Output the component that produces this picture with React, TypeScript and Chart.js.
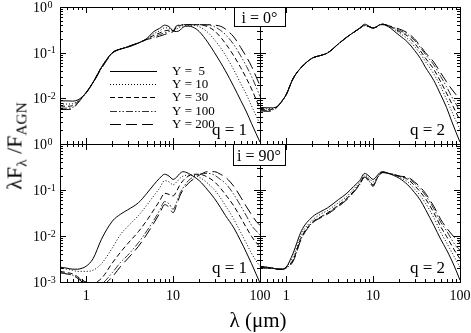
import React, { useEffect, useRef } from "react";
import { Chart, registerables } from "chart.js";
Chart.register(...registerables);

const SERIF = '"Liberation Serif", "Times New Roman", Times, serif';

// ---------- data ----------
const wavelengths = [0.5, 0.6, 0.7, 0.8, 0.9, 1.0, 1.2, 1.5, 2, 2.5, 3, 4, 5, 6, 7, 8, 9, 10, 11, 12, 13, 15, 17, 20, 25, 30, 35, 40, 50, 60, 70, 80, 90, 100];
const seriesLabels = ["Y =  5", "Y = 10", "Y = 30", "Y = 100", "Y = 200"];
const xTickValues = [1, 10, 100];
const xTickLabels = ["1", "10", "100"];
const yDecades = [0.001, 0.01, 0.1, 1];
const yExponents = ["-3", "-2", "-1", "0"];

// i = 0°, q = 1
const face_q1_Y5 = [0.0088, 0.0088, 0.0087, 0.0092, 0.0108, 0.0135, 0.0225, 0.048, 0.10, 0.121, 0.132, 0.162, 0.205, 0.29, 0.34, 0.40, 0.37, 0.30, 0.29, 0.31, 0.36, 0.38, 0.36, 0.29, 0.17, 0.10, 0.062, 0.04, 0.018, 0.009, 0.005, 0.0028, 0.0017, 0.0011];
const face_q1_Y10 = [0.0076, 0.0075, 0.0076, 0.0088, 0.0106, 0.0134, 0.0224, 0.048, 0.10, 0.121, 0.133, 0.163, 0.20, 0.26, 0.30, 0.35, 0.34, 0.30, 0.33, 0.36, 0.39, 0.40, 0.40, 0.37, 0.28, 0.19, 0.13, 0.088, 0.042, 0.021, 0.012, 0.0068, 0.0042, 0.0027];
const face_q1_Y30 = [0.0068, 0.0067, 0.0069, 0.0084, 0.0105, 0.0133, 0.0222, 0.047, 0.099, 0.12, 0.133, 0.164, 0.198, 0.24, 0.27, 0.30, 0.31, 0.30, 0.36, 0.39, 0.41, 0.41, 0.41, 0.41, 0.37, 0.30, 0.22, 0.16, 0.085, 0.047, 0.027, 0.016, 0.0095, 0.0058];
const face_q1_Y100 = [0.0061, 0.0061, 0.0063, 0.008, 0.0104, 0.0132, 0.022, 0.046, 0.098, 0.12, 0.134, 0.165, 0.196, 0.22, 0.25, 0.27, 0.29, 0.30, 0.38, 0.40, 0.41, 0.41, 0.41, 0.41, 0.40, 0.37, 0.31, 0.25, 0.15, 0.085, 0.05, 0.03, 0.018, 0.011];
const face_q1_Y200 = [0.0057, 0.0057, 0.006, 0.0078, 0.0103, 0.0131, 0.0218, 0.045, 0.097, 0.12, 0.135, 0.166, 0.195, 0.21, 0.23, 0.25, 0.27, 0.29, 0.39, 0.40, 0.41, 0.41, 0.41, 0.41, 0.41, 0.40, 0.38, 0.33, 0.22, 0.13, 0.08, 0.05, 0.03, 0.019];

// i = 0°, q = 2
const face_q2_Y5 = [0.0063, 0.0062, 0.0062, 0.0068, 0.0089, 0.012, 0.027, 0.048, 0.076, 0.087, 0.099, 0.157, 0.22, 0.28, 0.345, 0.42, 0.38, 0.345, 0.37, 0.41, 0.41, 0.37, 0.31, 0.24, 0.17, 0.112, 0.075, 0.048, 0.0245, 0.012, 0.0063, 0.0032, 0.0018, 0.0011];
const face_q2_Y10 = [0.006, 0.0059, 0.006, 0.0068, 0.0089, 0.012, 0.027, 0.048, 0.076, 0.087, 0.099, 0.156, 0.22, 0.28, 0.34, 0.40, 0.37, 0.345, 0.37, 0.41, 0.42, 0.38, 0.34, 0.27, 0.20, 0.136, 0.095, 0.064, 0.034, 0.018, 0.0095, 0.0053, 0.0032, 0.0021];
const face_q2_Y30 = [0.0057, 0.0056, 0.0058, 0.0067, 0.0088, 0.012, 0.027, 0.048, 0.076, 0.087, 0.099, 0.156, 0.22, 0.28, 0.34, 0.395, 0.37, 0.345, 0.37, 0.41, 0.42, 0.385, 0.35, 0.29, 0.23, 0.16, 0.11, 0.076, 0.043, 0.023, 0.013, 0.0078, 0.0049, 0.0033];
const face_q2_Y100 = [0.0055, 0.0054, 0.0056, 0.0067, 0.0088, 0.012, 0.027, 0.048, 0.076, 0.087, 0.099, 0.155, 0.22, 0.28, 0.34, 0.39, 0.37, 0.345, 0.37, 0.41, 0.42, 0.39, 0.36, 0.31, 0.25, 0.185, 0.13, 0.092, 0.054, 0.03, 0.018, 0.011, 0.0075, 0.0052];
const face_q2_Y200 = [0.0053, 0.0052, 0.0054, 0.0066, 0.0088, 0.012, 0.027, 0.048, 0.076, 0.087, 0.099, 0.155, 0.22, 0.28, 0.34, 0.39, 0.37, 0.345, 0.37, 0.41, 0.42, 0.39, 0.365, 0.33, 0.27, 0.20, 0.14, 0.10, 0.062, 0.036, 0.023, 0.016, 0.012, 0.0095];

// i = 90°, q = 1
const edge_q1_Y5 = [0.0021, 0.002, 0.0019, 0.0019, 0.002, 0.0022, 0.0032, 0.0085, 0.021, 0.03, 0.037, 0.053, 0.085, 0.13, 0.18, 0.22, 0.20, 0.17, 0.19, 0.23, 0.25, 0.23, 0.20, 0.16, 0.10, 0.065, 0.042, 0.028, 0.015, 0.0078, 0.0043, 0.0025, 0.0015, 0.00095];
const edge_q1_Y10 = [0.002, 0.0019, 0.0018, 0.0017, 0.0017, 0.0017, 0.0018, 0.0025, 0.0055, 0.011, 0.016, 0.028, 0.047, 0.075, 0.11, 0.16, 0.15, 0.13, 0.15, 0.18, 0.20, 0.21, 0.21, 0.19, 0.14, 0.10, 0.068, 0.046, 0.023, 0.012, 0.0068, 0.0042, 0.0029, 0.0022];
const edge_q1_Y30 = [0.0017, 0.0016, 0.0015, 0.0013, 0.0011, 0.001, 0.00095, 0.0012, 0.0026, 0.0045, 0.0068, 0.0125, 0.022, 0.037, 0.058, 0.085, 0.08, 0.074, 0.095, 0.13, 0.16, 0.20, 0.22, 0.22, 0.19, 0.15, 0.11, 0.08, 0.045, 0.025, 0.015, 0.0098, 0.0072, 0.006];
const edge_q1_Y100 = [0.0016, 0.0015, 0.0014, 0.0012, 0.0011, 0.00095, 0.0008, 0.0009, 0.0016, 0.0027, 0.0038, 0.0072, 0.013, 0.022, 0.036, 0.056, 0.05, 0.038, 0.055, 0.085, 0.11, 0.16, 0.19, 0.22, 0.23, 0.21, 0.17, 0.14, 0.08, 0.045, 0.027, 0.017, 0.013, 0.0105];
const edge_q1_Y200 = [0.0016, 0.0015, 0.0014, 0.0012, 0.001, 0.0009, 0.0007, 0.0008, 0.0013, 0.0022, 0.0032, 0.006, 0.011, 0.019, 0.031, 0.048, 0.042, 0.032, 0.048, 0.075, 0.10, 0.14, 0.17, 0.21, 0.25, 0.25, 0.22, 0.19, 0.12, 0.07, 0.043, 0.029, 0.021, 0.017];

// i = 90°, q = 2
const edge_q2_Y5 = [0.0022, 0.0021, 0.002, 0.0019, 0.0019, 0.0021, 0.0042, 0.013, 0.026, 0.034, 0.041, 0.062, 0.085, 0.12, 0.16, 0.23, 0.20, 0.17, 0.20, 0.24, 0.25, 0.23, 0.21, 0.18, 0.13, 0.088, 0.06, 0.038, 0.017, 0.0085, 0.005, 0.003, 0.0018, 0.0011];
const edge_q2_Y10 = [0.0022, 0.0021, 0.002, 0.0019, 0.0019, 0.0021, 0.0035, 0.011, 0.022, 0.03, 0.036, 0.053, 0.073, 0.105, 0.145, 0.21, 0.18, 0.15, 0.18, 0.23, 0.245, 0.23, 0.215, 0.19, 0.15, 0.105, 0.075, 0.052, 0.025, 0.012, 0.0072, 0.0045, 0.003, 0.0021];
const edge_q2_Y30 = [0.0021, 0.002, 0.002, 0.0019, 0.0019, 0.0021, 0.003, 0.0095, 0.02, 0.026, 0.032, 0.047, 0.066, 0.095, 0.135, 0.20, 0.165, 0.13, 0.175, 0.225, 0.24, 0.23, 0.22, 0.20, 0.17, 0.125, 0.09, 0.065, 0.032, 0.016, 0.0098, 0.0063, 0.0043, 0.0032];
const edge_q2_Y100 = [0.0021, 0.002, 0.002, 0.0019, 0.0019, 0.002, 0.0029, 0.009, 0.0195, 0.0255, 0.031, 0.045, 0.063, 0.092, 0.13, 0.19, 0.155, 0.125, 0.17, 0.22, 0.24, 0.23, 0.22, 0.20, 0.18, 0.14, 0.105, 0.077, 0.039, 0.02, 0.013, 0.0085, 0.006, 0.005];
const edge_q2_Y200 = [0.0021, 0.002, 0.002, 0.0019, 0.0019, 0.002, 0.0028, 0.0088, 0.019, 0.025, 0.03, 0.044, 0.062, 0.09, 0.13, 0.19, 0.15, 0.12, 0.17, 0.22, 0.24, 0.23, 0.22, 0.20, 0.19, 0.15, 0.115, 0.085, 0.044, 0.023, 0.015, 0.011, 0.0085, 0.0072];

// ---------- styles ----------
const DASHES = [[], [1, 2], [5, 3], [7, 2, 1.5, 2, 1.5, 2], [11, 5]];
const COLORS = ["#000", "#000", "#000", "#333", "#000"];

type Panel = {
  area: { l: number; t: number; r: number; b: number };
  series: number[][];
  yLabelIdx: number[];
  showX: boolean;
  q: string;
  qRightInset: number;
  legend: boolean;
  box?: { x: number; y: number; w: number; h: number; text: string };
};

const PANELS: Panel[] = [
  { area: { l: 60, t: 7, r: 260, b: 144 }, series: [face_q1_Y5, face_q1_Y10, face_q1_Y30, face_q1_Y100, face_q1_Y200], yLabelIdx: [1, 2, 3], showX: false, q: "q = 1", qRightInset: 13, legend: true },
  { area: { l: 260, t: 7, r: 460, b: 144 }, series: [face_q2_Y5, face_q2_Y10, face_q2_Y30, face_q2_Y100, face_q2_Y200], yLabelIdx: [], showX: false, q: "q = 2", qRightInset: 15, legend: false, box: { x: 234, y: 7, w: 51, h: 19, text: "i = 0°" } },
  { area: { l: 60, t: 144, r: 260, b: 282 }, series: [edge_q1_Y5, edge_q1_Y10, edge_q1_Y30, edge_q1_Y100, edge_q1_Y200], yLabelIdx: [0, 1, 2, 3], showX: true, q: "q = 1", qRightInset: 13, legend: false },
  { area: { l: 260, t: 144, r: 460, b: 282 }, series: [edge_q2_Y5, edge_q2_Y10, edge_q2_Y30, edge_q2_Y100, edge_q2_Y200], yLabelIdx: [], showX: true, q: "q = 2", qRightInset: 15, legend: false, box: { x: 233, y: 144, w: 52, h: 21, text: "i = 90°" } },
];

const W = 471;
const H = 333;

const framePlugin = {
  id: "frame",
  afterDraw(chart: any, _args: any, opts: any) {
    const p: Panel = opts.panel;
    const { ctx, chartArea: a, scales } = chart;
    const xs = scales.x;
    const ys = scales.y;
    ctx.save();
    ctx.strokeStyle = "#000";
    ctx.lineWidth = 1;
    ctx.setLineDash([]);
    const line = (x1: number, y1: number, x2: number, y2: number) => {
      ctx.beginPath();
      ctx.moveTo(x1, y1);
      ctx.lineTo(x2, y2);
      ctx.stroke();
    };
    // frame
    ctx.strokeRect(a.left + 0.5, a.top + 0.5, a.right - a.left, a.bottom - a.top);
    // x ticks
    const xMinor: number[] = [];
    const xMajor: number[] = [];
    [0.1, 1, 10].forEach((d) => {
      for (let m = 1; m <= 9; m++) {
        const v = m * d;
        if (v <= 0.5 || v >= 100) continue;
        if (m === 1) xMajor.push(v);
        else xMinor.push(v);
      }
    });
    const px = (v: number) => Math.round(xs.getPixelForValue(v)) + 0.5;
    const py = (v: number) => Math.round(ys.getPixelForValue(v)) + 0.5;
    xMinor.forEach((v) => {
      const x = px(v);
      line(x, a.bottom, x, a.bottom - 3);
      line(x, a.top, x, a.top + 3);
    });
    xMajor.forEach((v) => {
      const x = px(v);
      line(x, a.bottom, x, a.bottom - 6);
      line(x, a.top, x, a.top + 6);
    });
    // y ticks
    [0.001, 0.01, 0.1].forEach((d, k) => {
      for (let m = 1; m <= 9; m++) {
        const v = m * d;
        if (m === 1 && k === 0) continue;
        const y = py(v);
        const len = m === 1 ? 6 : 3;
        line(a.left, y, a.left + len, y);
        line(a.right, y, a.right - len, y);
      }
    });
    ctx.fillStyle = "#000";
    // x labels
    if (p.showX) {
      ctx.font = `14px ${SERIF}`;
      ctx.textAlign = "center";
      ctx.textBaseline = "alphabetic";
      xTickValues.forEach((v, i) => {
        ctx.fillText(xTickLabels[i], xs.getPixelForValue(v), a.bottom + 18);
      });
    }
    // y labels
    p.yLabelIdx.forEach((i) => {
      const y = ys.getPixelForValue(yDecades[i]);
      ctx.font = `14px ${SERIF}`;
      ctx.textAlign = "right";
      ctx.textBaseline = "alphabetic";
      ctx.fillText("10", 47, y + 5);
      ctx.font = `10px ${SERIF}`;
      ctx.textAlign = "left";
      ctx.fillText(yExponents[i], 47.5, y + 0.5);
    });
    // q label
    ctx.font = `17px ${SERIF}`;
    ctx.textAlign = "right";
    ctx.textBaseline = "alphabetic";
    ctx.fillText(p.q, a.right - p.qRightInset, a.bottom - 9);
    // legend
    if (p.legend) {
      seriesLabels.forEach((lab, i) => {
        const y = Math.round(71 + 13.2 * i) + 0.5;
        ctx.strokeStyle = COLORS[i];
        ctx.setLineDash(DASHES[i]);
        line(110, y, 157, y);
        ctx.setLineDash([]);
        ctx.font = `13px ${SERIF}`;
        ctx.textAlign = "left";
        ctx.textBaseline = "middle";
        ctx.fillStyle = "#000";
        ctx.fillText(lab, 172, y);
      });
    }
    // inclination box
    if (p.box) {
      const b = p.box;
      ctx.fillStyle = "#fff";
      ctx.fillRect(b.x, b.y, b.w, b.h);
      ctx.strokeStyle = "#000";
      ctx.setLineDash([]);
      ctx.strokeRect(b.x + 0.5, b.y + 0.5, b.w, b.h);
      ctx.fillStyle = "#000";
      ctx.font = `16px ${SERIF}`;
      ctx.textAlign = "center";
      ctx.textBaseline = "alphabetic";
      ctx.fillText(b.text, b.x + b.w / 2, b.y + b.h / 2 + 6);
    }
    ctx.restore();
  },
};

function buildConfig(p: Panel): any {
  return {
    type: "line",
    data: {
      datasets: p.series.map((vals, i) => ({
        label: seriesLabels[i],
        data: wavelengths.map((w, j) => ({ x: w, y: vals[j] })),
        borderColor: COLORS[i],
        borderWidth: 1,
        borderDash: DASHES[i],
        pointRadius: 0,
        fill: false,
        cubicInterpolationMode: "monotone",
      })),
    },
    options: {
      responsive: false,
      animation: false,
      events: [],
      layout: { padding: { left: p.area.l, top: p.area.t, right: W - p.area.r, bottom: H - p.area.b } },
      plugins: { legend: { display: false }, tooltip: { enabled: false }, frame: { panel: p } },
      scales: {
        x: {
          type: "logarithmic",
          min: 0.5,
          max: 100,
          grid: { display: false, drawTicks: false },
          border: { display: false },
          ticks: { display: false },
          afterFit: (s: any) => {
            s.height = 0;
          },
        },
        y: {
          type: "logarithmic",
          min: 0.001,
          max: 1,
          grid: { display: false, drawTicks: false },
          border: { display: false },
          ticks: { display: false },
          afterFit: (s: any) => {
            s.width = 0;
          },
        },
      },
    },
    plugins: [framePlugin],
  };
}

function PanelCanvas({ panel }: { panel: Panel }) {
  const ref = useRef<HTMLCanvasElement>(null);
  useEffect(() => {
    if (!ref.current) return;
    const chart = new Chart(ref.current, buildConfig(panel));
    return () => chart.destroy();
  }, [panel]);
  return (
    <canvas
      ref={ref}
      width={W}
      height={H}
      style={{ position: "absolute", left: 0, top: 0, width: W, height: H }}
    />
  );
}

export default function App() {
  const subStyle: React.CSSProperties = { fontSize: "0.7em", verticalAlign: "-0.3em" };
  return (
    <div style={{ position: "fixed", left: 0, top: 0, width: W, height: H, background: "#fff", overflow: "hidden" }}>
      {PANELS.map((p, i) => (
        <PanelCanvas key={i} panel={p} />
      ))}
      <div
        style={{
          position: "absolute",
          left: 16,
          top: 146,
          transform: "translate(-50%, -50%) rotate(-90deg)",
          whiteSpace: "nowrap",
          fontFamily: SERIF,
          fontSize: 22,
          lineHeight: 1,
          color: "#000",
        }}
      >
        λF<span style={subStyle}>λ</span> /F<span style={subStyle}>AGN</span>
      </div>
      <div
        style={{
          position: "absolute",
          left: 258,
          top: 320,
          transform: "translate(-50%, -50%)",
          whiteSpace: "nowrap",
          fontFamily: SERIF,
          fontSize: 21,
          lineHeight: 1,
          color: "#000",
        }}
      >
        λ (μm)
      </div>
    </div>
  );
}
